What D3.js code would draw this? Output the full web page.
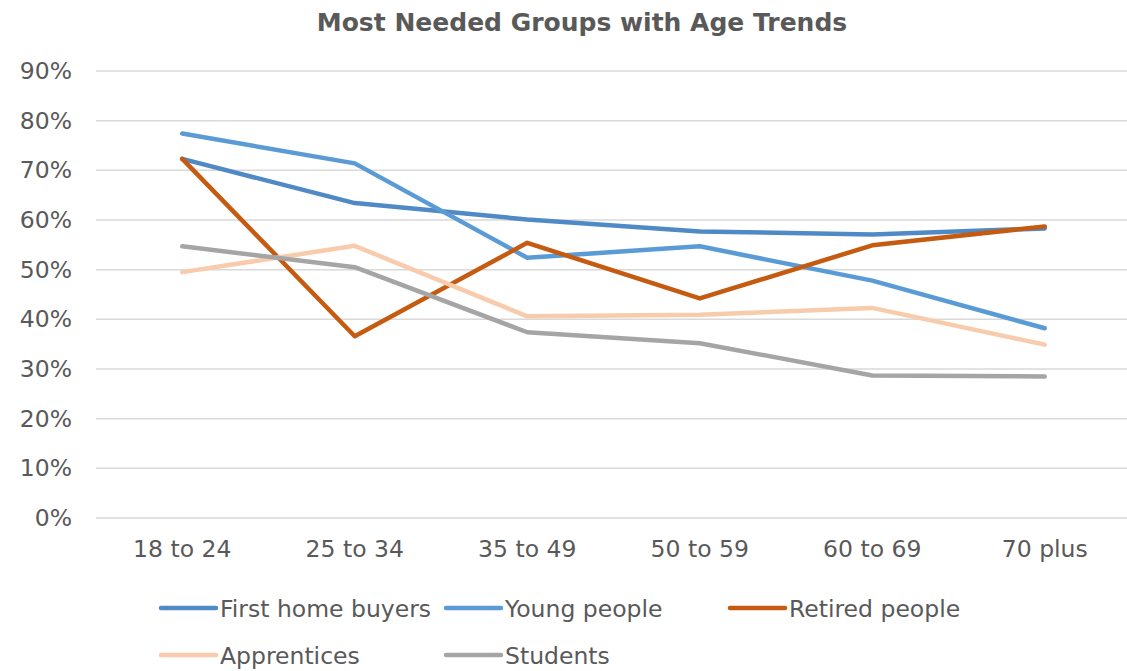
<!DOCTYPE html>
<html>
<head>
<meta charset="utf-8">
<script src="https://cdn.jsdelivr.net/npm/d3@7"></script>
<style>
  body { margin: 0; background: #fff; }
  text { font-family: "DejaVu Sans", sans-serif; fill: #595959; }
</style>
</head>
<body>
<div id="chart-area"></div>
<script>
var width = 1127;
var height = 671;

// data
var categories = ["18 to 24", "25 to 34", "35 to 49", "50 to 59", "60 to 69", "70 plus"];
var seriesNames = ["First home buyers", "Young people", "Retired people", "Apprentices", "Students"];
var seriesColors = ["#4F8AC6", "#5B9BD5", "#C55A11", "#F8CBAD", "#A5A5A5"];
var firstHomeBuyers = [72.3, 63.4, 60.1, 57.7, 57.1, 58.3];
var youngPeople = [77.4, 71.4, 52.4, 54.7, 47.8, 38.2];
var retiredPeople = [72.3, 36.6, 55.4, 44.2, 54.9, 58.7];
var apprentices = [49.5, 54.8, 40.6, 40.9, 42.3, 34.9];
var students = [54.7, 50.5, 37.4, 35.2, 28.7, 28.5];
var yTicks = [0, 10, 20, 30, 40, 50, 60, 70, 80, 90];

var allSeries = [firstHomeBuyers, youngPeople, retiredPeople, apprentices, students];

var svg = d3.select("#chart-area").append("svg")
    .attr("width", width)
    .attr("height", height);

var plotLeft = 96, plotRight = 1131, plotTop = 71, plotBottom = 518;
var labelSize = 23.5;

var x = d3.scaleBand()
    .domain(categories)
    .range([plotLeft, plotRight]);

var y = d3.scaleLinear()
    .domain([0, 90])
    .range([plotBottom, plotTop]);

// title
svg.append("text")
    .attr("x", 582)
    .attr("y", 31)
    .attr("text-anchor", "middle")
    .attr("font-size", 25)
    .attr("font-weight", "bold")
    .text("Most Needed Groups with Age Trends");

// gridlines
svg.append("g").selectAll("line")
    .data(yTicks)
    .enter().append("line")
    .attr("x1", plotLeft)
    .attr("x2", width)
    .attr("y1", function(d){ return y(d); })
    .attr("y2", function(d){ return y(d); })
    .attr("stroke", "#d9d9d9")
    .attr("stroke-width", 1.5);

// y labels
var yAxis = d3.axisLeft(y)
    .tickValues(yTicks)
    .tickFormat(function(d){ return d + "%"; })
    .tickSize(0)
    .tickPadding(24);

var gy = svg.append("g")
    .attr("transform", "translate(" + plotLeft + ",0)")
    .call(yAxis);
gy.select(".domain").remove();
gy.selectAll("text").attr("font-size", labelSize).attr("fill", "#595959").style("font-family", "DejaVu Sans");

// x labels
var xAxis = d3.axisBottom(x).tickSize(0).tickPadding(22);
var gx = svg.append("g")
    .attr("transform", "translate(0," + plotBottom + ")")
    .call(xAxis);
gx.select(".domain").remove();
gx.selectAll("text").attr("font-size", labelSize).attr("fill", "#595959").style("font-family", "DejaVu Sans");

// lines
var line = d3.line()
    .x(function(d, i){ return x(categories[i]) + x.bandwidth() / 2; })
    .y(function(d){ return y(d); });

allSeries.forEach(function(s, i){
    svg.append("path")
        .attr("d", line(s))
        .attr("fill", "none")
        .attr("stroke", seriesColors[i])
        .attr("stroke-width", 4.5)
        .attr("stroke-linecap", "round")
        .attr("stroke-linejoin", "round");
});

// legend
var legendX = [161, 446, 730];
var legendY = [608, 655];
var legend = svg.append("g").selectAll("g")
    .data(seriesNames)
    .enter().append("g")
    .attr("transform", function(d, i){
        return "translate(" + legendX[i % 3] + "," + legendY[Math.floor(i / 3)] + ")";
    });

legend.append("line")
    .attr("x1", 0).attr("x2", 55)
    .attr("y1", 0).attr("y2", 0)
    .attr("stroke", function(d, i){ return seriesColors[i]; })
    .attr("stroke-width", 4.5)
    .attr("stroke-linecap", "round");

legend.append("text")
    .attr("x", 59)
    .attr("y", 9)
    .attr("font-size", labelSize)
    .text(function(d){ return d; });
</script>
</body>
</html>
